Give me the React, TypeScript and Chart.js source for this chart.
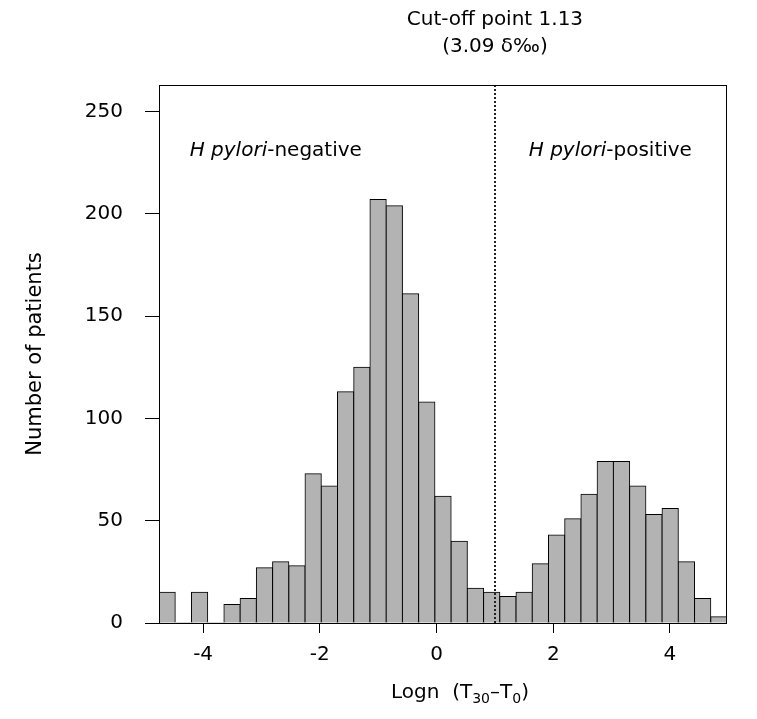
import React, { useEffect, useRef } from "react";
import { Chart, registerables } from "chart.js";

Chart.register(...registerables);

// ---- data ----
const binStart = -4.756;
const binEnd = 4.977;
const counts = [
  15, 0, 15, 0, 9, 12, 27, 30, 28, 73, 67, 113, 125, 207, 204, 161, 108, 62, 40, 17,
  15, 13, 15, 29, 43, 51, 63, 79, 79, 67, 53, 56, 30, 12, 3,
];
const xTicks = [-4, -2, 0, 2, 4];
const yTicks = [0, 50, 100, 150, 200, 250];
const yMax = 263;
const cutoffX = 1.0;
const titleLines = ["Cut-off point 1.13", "(3.09 δ‰)"];
// x-axis title pieces: [text, isSubscript]
const xTitleParts: [string, boolean][] = [
  ["Logn  (T", false],
  ["30", true],
  ["–T", false],
  ["0", true],
  [")", false],
];
const yTitle = "Number of patients";
const groupLabels = [
  { x: -4.23, y: 231, italic: "H pylori", rest: "-negative" },
  { x: 1.58, y: 231, italic: "H pylori", rest: "-positive" },
];

const FONT = '"DejaVu Sans", "Liberation Sans", sans-serif';
const binWidth = (binEnd - binStart) / counts.length;
const points = counts.map((c, i) => ({ x: binStart + (i + 0.5) * binWidth, y: c }));

const overlay = {
  id: "overlay",
  afterDatasetsDraw(chart: any) {
    const { ctx, chartArea: a, scales } = chart;
    const xs = scales.x;
    const ys = scales.y;
    ctx.save();
    // cutoff dotted line
    const cx = xs.getPixelForValue(cutoffX);
    ctx.strokeStyle = "#222";
    ctx.lineWidth = 2;
    ctx.setLineDash([2, 2]);
    ctx.beginPath();
    ctx.moveTo(Math.round(cx), a.top);
    ctx.lineTo(Math.round(cx), a.bottom);
    ctx.stroke();
    ctx.setLineDash([]);
    // box
    ctx.strokeStyle = "#000";
    ctx.lineWidth = 1;
    ctx.strokeRect(
      Math.round(a.left) + 0.5,
      Math.round(a.top) + 0.5,
      Math.round(a.right - a.left) - 1,
      Math.round(a.bottom - a.top)
    );
    // group labels
    ctx.fillStyle = "#000";
    ctx.textBaseline = "middle";
    ctx.textAlign = "left";
    for (const g of groupLabels) {
      const px = xs.getPixelForValue(g.x);
      const py = ys.getPixelForValue(g.y);
      ctx.font = `italic 20px ${FONT}`;
      ctx.fillText(g.italic, px, py);
      const w = ctx.measureText(g.italic).width;
      ctx.font = `20px ${FONT}`;
      ctx.fillText(g.rest, px + w, py);
    }
    // title above the cutoff line
    ctx.textAlign = "center";
    ctx.font = `20px ${FONT}`;
    ctx.fillText(titleLines[0], cx, a.top - 65);
    ctx.fillText(titleLines[1], cx, a.top - 38);

    // x-axis title with subscripts
    ctx.textAlign = "left";
    ctx.textBaseline = "alphabetic";
    const mainFont = `20px ${FONT}`;
    const subFont = `14px ${FONT}`;
    let total = 0;
    for (const [t, sub] of xTitleParts) {
      ctx.font = sub ? subFont : mainFont;
      total += ctx.measureText(t).width;
    }
    let px = (a.left + a.right) / 2 + 17 - total / 2;
    const base = a.bottom + 75;
    for (const [t, sub] of xTitleParts) {
      ctx.font = sub ? subFont : mainFont;
      ctx.fillText(t, px, sub ? base + 5 : base);
      px += ctx.measureText(t).width;
    }
    ctx.restore();
  },
};

export default function App() {
  const ref = useRef<HTMLCanvasElement>(null);
  useEffect(() => {
    const chart = new Chart(ref.current as HTMLCanvasElement, {
      type: "bar",
      data: {
        datasets: [
          {
            data: points as any,
            backgroundColor: "#b3b3b3",
            borderColor: "#000",
            borderSkipped: "start",
            barPercentage: 1,
            categoryPercentage: 1,
            inflateAmount: 0.5,
            borderWidth: (c: any) => (counts[c.dataIndex] ? 1 : 0),
          } as any,
        ],
      },
      options: {
        animation: false,
        responsive: false,
        devicePixelRatio: 1,
        layout: { padding: { top: 85, right: 30, left: 0, bottom: 0 } },
        plugins: { legend: { display: false }, tooltip: { enabled: false }, title: { display: false } },
        scales: {
          x: {
            type: "linear",
            min: binStart,
            max: binEnd,
            offset: false,
            afterBuildTicks: (s: any) => {
              s.ticks = xTicks.map((v) => ({ value: v }));
            },
            afterFit: (s: any) => {
              s.height = 96;
            },
            grid: { offset: false, drawOnChartArea: false, drawTicks: true, tickLength: 10, color: "#000", lineWidth: 1 },
            border: { display: false },
            ticks: { padding: 10, color: "#000", font: { family: FONT, size: 20 }, maxRotation: 0, autoSkip: false },
            title: { display: false },
          },
          y: {
            type: "linear",
            min: 0,
            max: yMax,
            afterBuildTicks: (s: any) => {
              s.ticks = yTicks.map((v) => ({ value: v }));
            },
            afterFit: (s: any) => {
              s.width = 159;
            },
            grid: { drawOnChartArea: false, drawTicks: true, tickLength: 14, color: "#000", lineWidth: 1 },
            border: { display: false },
            ticks: { padding: 22, color: "#000", font: { family: FONT, size: 20 } },
            title: {
              display: true,
              text: yTitle,
              color: "#000",
              font: { family: FONT, size: 21 },
              padding: { top: 23, bottom: 0 },
            },
          },
        },
      },
      plugins: [overlay],
    } as any);
    return () => chart.destroy();
  }, []);
  return (
    <div style={{ position: "absolute", left: 0, top: 0, width: 757, height: 719, background: "#fff" }}>
      <canvas ref={ref} width={757} height={719} style={{ display: "block", width: 757, height: 719 }} />
    </div>
  );
}
